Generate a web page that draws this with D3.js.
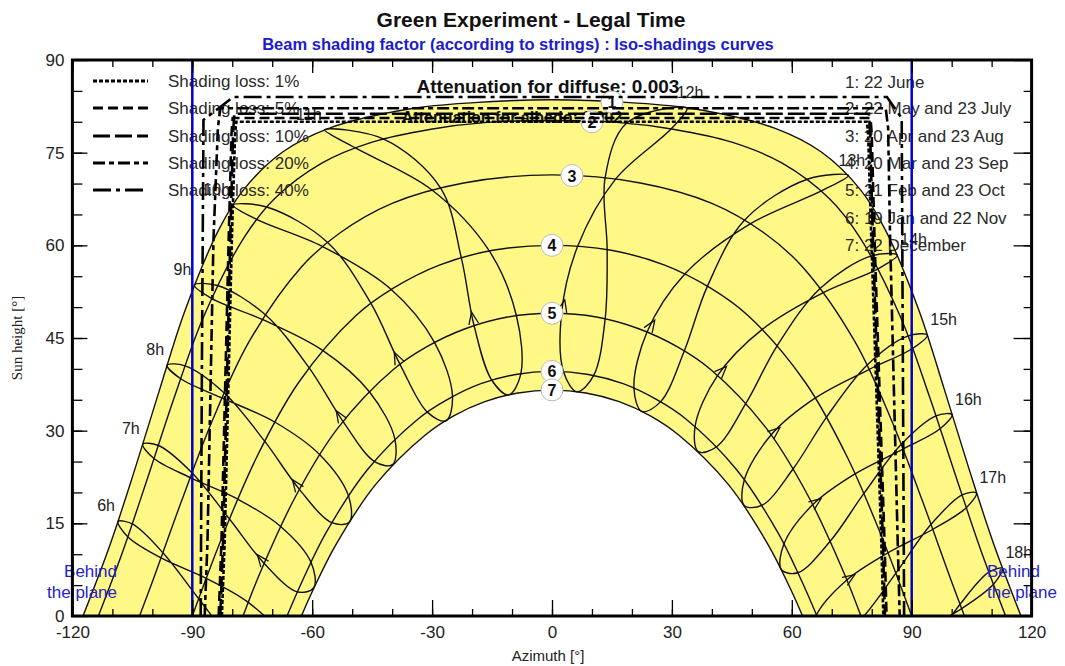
<!DOCTYPE html>
<html>
<head>
<meta charset="utf-8">
<script src="https://cdn.jsdelivr.net/npm/d3@7"></script>
<style>
  body { margin: 0; background: #fff; }
  svg { display: block; font-family: "Liberation Sans", Arial, sans-serif; }
</style>
</head>
<body>
<svg id="chart" width="1065" height="666"></svg>
<script>
// sun positions [azimuth, height] at legal hours 6h..18h, one list per date
const hourLabels = ["6h", "7h", "8h", "9h", "10h", "11h", "12h", "13h", "14h", "15h", "16h", "17h", "18h"];
const hourValues = [6, 7, 8, 9, 10, 11, 12, 13, 14, 15, 16, 17, 18];

const sunJan = [[-71.0,-8.1],[-63.7,3.9],[-55.1,15.1],[-44.4,25.0],[-31.2,33.0],[-15.1,38.2],[2.9,39.5],[20.5,36.9],[35.8,30.7],[48.1,22.0],[58.0,11.6],[66.2,0.2],[73.2,-12.0]];
const sunFeb = [[-79.7,-4.1],[-72.0,8.5],[-63.2,20.5],[-52.3,31.5],[-38.0,40.7],[-19.5,47.0],[2.4,49.0],[23.8,46.0],[41.4,38.9],[54.8,29.3],[65.2,18.0],[73.7,5.8],[81.2,-6.8]];
const sunMar = [[-88.4,2.8],[-80.7,15.7],[-71.9,28.3],[-60.8,40.2],[-45.3,50.6],[-22.7,58.0],[6.4,59.8],[33.3,55.4],[52.6,46.4],[65.9,35.3],[75.8,23.0],[84.0,10.2],[91.6,-2.8]];
const sunApr = [[-97.3,10.2],[-90.1,23.2],[-82.0,36.1],[-71.8,48.8],[-56.2,60.5],[-27.9,69.3],[16.0,70.8],[49.7,63.5],[68.0,52.4],[79.3,39.9],[87.8,27.0],[95.2,14.0],[102.5,1.2]];
const sunMay = [[-105.0,14.9],[-98.5,27.6],[-91.8,40.5],[-83.7,53.5],[-71.4,66.2],[-42.1,77.2],[29.9,78.9],[67.4,68.8],[81.6,56.2],[90.2,43.3],[97.1,30.3],[103.6,17.5],[110.4,5.1]];
const sunJun = [[-108.6,15.3],[-102.4,27.8],[-96.3,40.6],[-89.5,53.6],[-79.8,66.5],[-56.9,78.7],[33.7,82.2],[74.2,71.3],[86.4,58.4],[93.9,45.5],[100.1,32.6],[106.2,19.9],[112.7,7.7]];
const sunJul = [[-106.1,12.8],[-99.6,25.5],[-92.9,38.4],[-85.2,51.4],[-73.9,64.2],[-49.3,75.8],[18.7,79.8],[63.9,70.7],[79.9,58.3],[89.0,45.3],[96.1,32.4],[102.6,19.6],[109.3,7.1]];
const sunAug = [[-97.8,9.4],[-90.5,22.4],[-82.6,35.3],[-72.5,48.0],[-57.4,59.8],[-30.1,69.0],[13.3,71.0],[48.2,64.1],[67.2,53.1],[78.8,40.6],[87.4,27.8],[94.8,14.8],[102.1,1.9]];
const sunSep = [[-86.5,6.1],[-78.6,18.9],[-69.4,31.4],[-57.4,43.0],[-40.3,52.9],[-15.7,59.1],[13.8,59.3],[38.9,53.4],[56.4,43.8],[68.7,32.2],[78.0,19.8],[86.0,6.9],[93.5,-6.1]];
const sunOct = [[-76.0,2.2],[-67.9,14.5],[-58.1,26.1],[-45.7,36.3],[-29.4,44.3],[-8.9,48.6],[13.3,48.1],[33.1,42.9],[48.5,34.4],[60.3,23.8],[69.6,12.1],[77.5,-0.4],[84.8,-13.2]];
const sunNov = [[-68.1,-3.0],[-60.3,8.7],[-50.9,19.4],[-39.3,28.6],[-24.9,35.6],[-7.8,39.2],[10.4,38.9],[27.2,34.7],[41.2,27.4],[52.5,17.9],[61.5,7.0],[69.2,-4.8],[76.0,-17.2]];
const sunDec = [[-67.0,-7.1],[-59.6,4.6],[-50.7,15.2],[-39.9,24.5],[-26.5,31.6],[-10.8,35.8],[6.3,36.3],[22.5,33.1],[36.6,26.6],[48.1,17.9],[57.4,7.5],[65.1,-3.9],[71.8,-16.0]];

// date paths (sun course for one day), [azimuth, height]
const dateCurve1 = [[-117.35,0],[-110.6,11.5],[-104.3,23.9],[-98.2,36.6],[-91.8,49.5],[-83.4,62.5],[-77.3,68.9],[-67.4,75.1],[-56.0,78.9],[-35.4,82.1],[-19.4,83.1],[0,83.56],[19.4,83.1],[35.4,82.1],[56.0,78.9],[67.4,75.1],[77.3,68.9],[83.4,62.5],[91.8,49.5],[98.2,36.6],[104.3,23.9],[110.6,11.5],[117.35,0]];
const dateCurve2 = [[-113.5,0],[-107.7,9.9],[-101.1,22.5],[-94.5,35.4],[-87.2,48.4],[-77.1,61.2],[-69.5,67.5],[-57.6,73.3],[-45.0,76.7],[-30.3,78.8],[-16.2,79.9],[0,80.2],[16.2,79.9],[30.3,78.8],[45.0,76.7],[57.6,73.3],[69.5,67.5],[77.1,61.2],[87.2,48.4],[94.5,35.4],[101.1,22.5],[107.7,9.9],[113.5,0]];
const dateCurve3 = [[-103.2,0],[-99.9,5.7],[-92.7,18.6],[-85.0,31.6],[-75.8,44.4],[-62.7,56.5],[-53.1,62.0],[-40.0,66.8],[-22.1,70.1],[0,71.4],[22.1,70.1],[40.0,66.8],[53.1,62.0],[62.7,56.5],[75.8,44.4],[85.0,31.6],[92.7,18.6],[99.9,5.7],[103.2,0]];
const dateCurve4 = [[-90,0],[-82.4,13.0],[-73.9,25.7],[-63.4,37.8],[-49.1,48.6],[-39.6,53.1],[-28.2,56.8],[-14.8,59.2],[0,60],[14.8,59.2],[28.2,56.8],[39.6,53.1],[49.1,48.6],[63.4,37.8],[73.9,25.7],[82.4,13.0],[90,0]];
const dateCurve5 = [[-77.3,0],[-72.9,7.2],[-64.2,19.3],[-53.6,30.4],[-39.7,39.9],[-31.3,43.6],[-21.7,46.5],[-11.1,48.4],[0,49],[11.1,48.4],[21.7,46.5],[31.3,43.6],[39.7,39.9],[53.6,30.4],[64.2,19.3],[72.9,7.2],[77.3,0]];
const dateCurve6 = [[-66.3,0],[-62.3,5.9],[-56.6,13.4],[-46.3,23.6],[-33.5,31.9],[-26.0,35.1],[-17.8,37.6],[-9.1,39.1],[0,39.6],[9.1,39.1],[17.8,37.6],[26.0,35.1],[33.5,31.9],[46.3,23.6],[56.6,13.4],[62.3,5.9],[66.3,0]];
const dateCurve7 = [[-62.7,0],[-59.8,4.2],[-54.2,11.4],[-44.1,21.3],[-31.7,29.3],[-24.6,32.4],[-16.8,34.7],[-8.5,36.1],[0,36.56],[8.5,36.1],[16.8,34.7],[24.6,32.4],[31.7,29.3],[44.1,21.3],[54.2,11.4],[59.8,4.2],[62.7,0]];

const dateNames = ["1: 22 June", "2: 22 May and 23 July", "3: 20 Apr and 23 Aug", "4: 20 Mar and 23 Sep",
                   "5: 21 Feb and 23 Oct", "6: 19 Jan and 22 Nov", "7: 22 December"];
const dateMarkAz = [15, 10, 5, 0, 0, 0, 0];
const dateMarkH = [83.2, 80.0, 71.3, 60.0, 49.0, 39.6, 36.6];

// iso-shading curves [azimuth, height]
const shadeNames = ["Shading loss: 1%", "Shading loss: 5%", "Shading loss: 10%", "Shading loss: 20%", "Shading loss: 40%"];
const iso1 = [[-82.6,0],[-81.9,12],[-80.1,61],[-79.3,78],[-79.0,80.0],[78.8,80.0],[79.1,78],[79.9,61],[82.4,12],[82.9,0]];
const iso5 = [[-83.4,0],[-82.7,12],[-80.9,61],[-80.2,78],[-79.9,80.6],[79.7,80.6],[80.0,78],[80.7,61],[83.2,12],[83.7,0]];
const iso10 = [[-83.0,0],[-82.3,12],[-80.5,61],[-79.8,78],[-79.5,81.3],[79.3,81.3],[79.6,78],[80.3,61],[82.8,12],[83.3,0]];
const iso20 = [[-86.9,0],[-86.2,12],[-84.7,61],[-83.6,79],[-83.0,82.2],[83.5,82.2],[84.1,79],[84.6,61],[86.5,12],[87.0,0]];
const iso40 = [[-87.9,0],[-87.6,40],[-87.2,80.3],[-79.8,84.0],[83.8,84.0],[87.5,80.6],[87.8,40],[88.1,0]];

const xTicks = [-120, -90, -60, -30, 0, 30, 60, 90, 120];
const yTicks = [0, 15, 30, 45, 60, 75, 90];

// ---- layout ----
const width = 1065, height = 666;
const margin = { top: 60, right: 33.4, bottom: 50, left: 72.4 };

const svg = d3.select("#chart");

const x = d3.scaleLinear().domain([-120, 120]).range([margin.left, width - margin.right]);
const y = d3.scaleLinear().domain([0, 90]).range([height - margin.bottom, margin.top]);

svg.append("defs").append("clipPath").attr("id", "plotclip")
    .append("rect")
    .attr("x", x(-120)).attr("y", y(90))
    .attr("width", x(120) - x(-120)).attr("height", y(0) - y(90));

const line = d3.line().x(d => x(d[0])).y(d => y(d[1])).curve(d3.curveCatmullRom);
const loopLine = d3.line().x(d => x(d[0])).y(d => y(d[1])).curve(d3.curveCatmullRomClosed);
const straight = d3.line().x(d => x(d[0])).y(d => y(d[1]));

const plot = svg.append("g").attr("clip-path", "url(#plotclip)");

// yellow band between 22 June and 22 December
const upper = line(dateCurve1);
const lower = line(dateCurve7.slice().reverse());
plot.append("path")
    .attr("d", upper + lower.replace(/^M/, "L") + "Z")
    .attr("fill", "#fff886");

// date curves
const dateCurves = [dateCurve1, dateCurve2, dateCurve3, dateCurve4, dateCurve5, dateCurve6, dateCurve7];
plot.selectAll(".datecurve")
    .data(dateCurves)
    .join("path")
    .attr("class", "datecurve")
    .attr("d", d => line(d))
    .attr("fill", "none")
    .attr("stroke", "#111")
    .attr("stroke-width", 1.4);

// hour loops (analemma through the year)
const yearLoop = [sunJan, sunFeb, sunMar, sunApr, sunMay, sunJun, sunJul, sunAug, sunSep, sunOct, sunNov, sunDec];
plot.selectAll(".hourloop")
    .data(hourValues)
    .join("path")
    .attr("class", "hourloop")
    .attr("d", (h, i) => loopLine(yearLoop.map(m => m[i])))
    .attr("fill", "none")
    .attr("stroke", "#111")
    .attr("stroke-width", 1.4);

// arrows: direction of time, from February towards March
hourValues.forEach((h, i) => {
    const a = sunFeb[i], b = sunMar[i];
    if (a[1] < 0) return;
    const p0 = [x(a[0]), y(a[1])], p1 = [x(b[0]), y(b[1])];
    const dx = p1[0] - p0[0], dy = p1[1] - p0[1];
    const len = Math.hypot(dx, dy);
    const u = [dx / len, dy / len];
    const tip = [p0[0] + 0.2 * dx, p0[1] + 0.2 * dy];
    const ang = 22 * Math.PI / 180, L = 13;
    const legs = [ang, -ang].map(t => [
        tip[0] - L * (u[0] * Math.cos(t) - u[1] * Math.sin(t)),
        tip[1] - L * (u[0] * Math.sin(t) + u[1] * Math.cos(t))
    ]);
    plot.append("path")
        .attr("d", `M${legs[0]}L${tip}L${legs[1]}`)
        .attr("fill", "none")
        .attr("stroke", "#111")
        .attr("stroke-width", 1.3);
});

// hour labels near the 22 June end of each loop
svg.selectAll(".hourlabel")
    .data(hourLabels)
    .join("text")
    .attr("class", "hourlabel")
    .attr("x", (d, i) => x(sunJun[i][0]) + (hourValues[i] < 12 ? -3 : (hourValues[i] <= 13 ? -10 : 3)))
    .attr("y", (d, i) => y(sunJun[i][1]) - 10)
    .attr("text-anchor", (d, i) => hourValues[i] < 12 ? "end" : "start")
    .attr("font-size", 16)
    .attr("fill", "#222")
    .text(d => d);

// legends
const shadeDash = ["4,2", "10,5", "17,5", "12,4,5,4", "18,5,4,5"];
const leftRows = [81, 108, 136, 163, 190];
shadeNames.forEach((name, i) => {
    svg.append("text")
        .attr("x", 168).attr("y", leftRows[i] + 6)
        .attr("font-size", 17).attr("fill", "#2a2a2a")
        .text(name);
});

const rightRows = [82, 108, 136, 163, 190, 218, 245];
svg.selectAll(".datename")
    .data(dateNames)
    .join("text")
    .attr("class", "datename")
    .attr("x", 845)
    .attr("y", (d, i) => rightRows[i] + 6)
    .attr("font-size", 17)
    .attr("fill", "#2a2a2a")
    .text(d => d);

svg.append("text")
    .attr("x", 512).attr("y", 123)
    .attr("text-anchor", "middle")
    .attr("font-size", 16).attr("font-weight", "bold").attr("fill", "#111")
    .text("Attenuation for albedo: 0.002");

svg.append("text")
    .attr("x", 548).attr("y", 93)
    .attr("text-anchor", "middle")
    .attr("font-size", 19).attr("font-weight", "bold").attr("fill", "#111")
    .text("Attenuation for diffuse: 0.003");

// date markers
dateNames.forEach((n, i) => {
    const cx = x(dateMarkAz[i]), cy = y(dateMarkH[i]);
    svg.append("circle")
        .attr("cx", cx).attr("cy", cy).attr("r", 11)
        .attr("fill", "#fff").attr("stroke", "#bbb").attr("stroke-width", 1);
    svg.append("text")
        .attr("x", cx).attr("y", cy + 6)
        .attr("text-anchor", "middle")
        .attr("font-size", 16).attr("font-weight", "bold").attr("fill", "#111")
        .text(i + 1);
});

// iso-shading curves
const isoCurves = [iso1, iso5, iso10, iso20, iso40];
const isoG = svg.append("g").attr("clip-path", "url(#plotclip)");
isoCurves.forEach((c, i) => {
    isoG.append("path")
        .attr("d", straight(c))
        .attr("fill", "none")
        .attr("stroke", "#000")
        .attr("stroke-width", 2.6)
        .attr("stroke-dasharray", shadeDash[i]);
    svg.append("line")
        .attr("x1", 93).attr("x2", 148)
        .attr("y1", leftRows[i]).attr("y2", leftRows[i])
        .attr("stroke", "#000").attr("stroke-width", 3)
        .attr("stroke-dasharray", shadeDash[i]);
});

// plane limits
[-90, 90].forEach(a => {
    svg.append("line")
        .attr("x1", x(a)).attr("x2", x(a))
        .attr("y1", y(0)).attr("y2", y(90))
        .attr("stroke", "#0000c8").attr("stroke-width", 2.5);
});

const behind = svg.append("g").attr("font-size", 17).attr("fill", "#2424cc");
behind.append("text").attr("x", 117).attr("y", 577).attr("text-anchor", "end").text("Behind");
behind.append("text").attr("x", 117).attr("y", 598).attr("text-anchor", "end").text("the plane");
behind.append("text").attr("x", 987).attr("y", 577).text("Behind");
behind.append("text").attr("x", 987).attr("y", 598).text("the plane");

// axes
function styleAxis(g) {
    g.select(".domain").remove();
    g.selectAll("line").attr("stroke", "#000").attr("stroke-width", 1.3);
    g.selectAll("text")
        .attr("font-size", 17)
        .attr("fill", "#222")
        .attr("font-family", "'Liberation Sans', Arial, sans-serif");
}
const plainNum = d => String(d);
const xMinor = d3.range(-110, 120, 10);
const yMinor = d3.range(5, 90, 5);

svg.append("g").attr("transform", `translate(0,${y(0)})`)
    .call(d3.axisBottom(x).tickValues(xTicks).tickFormat(plainNum).tickSize(-16).tickPadding(10)).call(styleAxis);
svg.append("g").attr("transform", `translate(0,${y(0)})`)
    .call(d3.axisBottom(x).tickValues(xMinor).tickSize(-7).tickFormat("")).call(styleAxis);
svg.append("g").attr("transform", `translate(0,${y(90)})`)
    .call(d3.axisTop(x).tickValues(xTicks).tickSize(-13).tickFormat("")).call(styleAxis);
svg.append("g").attr("transform", `translate(0,${y(90)})`)
    .call(d3.axisTop(x).tickValues(xMinor).tickSize(-7).tickFormat("")).call(styleAxis);
svg.append("g").attr("transform", `translate(${x(-120)},0)`)
    .call(d3.axisLeft(y).tickValues(yTicks).tickFormat(plainNum).tickSize(-15).tickPadding(8)).call(styleAxis);
svg.append("g").attr("transform", `translate(${x(-120)},0)`)
    .call(d3.axisLeft(y).tickValues(yMinor).tickSize(-10).tickFormat("")).call(styleAxis);
svg.append("g").attr("transform", `translate(${x(120)},0)`)
    .call(d3.axisRight(y).tickValues(yTicks).tickSize(-18).tickFormat("")).call(styleAxis);
svg.append("g").attr("transform", `translate(${x(120)},0)`)
    .call(d3.axisRight(y).tickValues(yMinor).tickSize(-8).tickFormat("")).call(styleAxis);

// frame
svg.append("rect")
    .attr("x", x(-120)).attr("y", y(90))
    .attr("width", x(120) - x(-120)).attr("height", y(0) - y(90))
    .attr("fill", "none").attr("stroke", "#000").attr("stroke-width", 3);

// titles
svg.append("text")
    .attr("x", 531).attr("y", 27)
    .attr("text-anchor", "middle")
    .attr("font-size", 21).attr("font-weight", "bold").attr("fill", "#111")
    .text("Green Experiment - Legal Time");
svg.append("text")
    .attr("x", 518).attr("y", 50)
    .attr("text-anchor", "middle")
    .attr("font-size", 16.5).attr("font-weight", "bold").attr("fill", "#1c1cc8")
    .text("Beam shading factor (according to strings) : Iso-shadings curves");

svg.append("text")
    .attr("x", 548).attr("y", 661)
    .attr("text-anchor", "middle")
    .attr("font-size", 15).attr("fill", "#222")
    .text("Azimuth [°]");
svg.append("text")
    .attr("transform", "translate(22,338) rotate(-90)")
    .attr("text-anchor", "middle")
    .attr("font-family", "'Liberation Serif', 'Times New Roman', serif")
    .attr("font-size", 15).attr("fill", "#222")
    .text("Sun height [°]");
</script>
</body>
</html>
